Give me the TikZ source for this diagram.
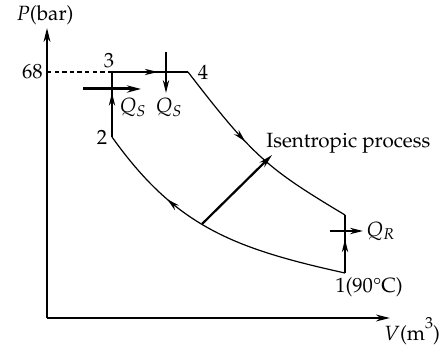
\documentclass[tikz,border=0pt]{standalone}
\usepackage[T1]{fontenc}
\usepackage{mathpazo}
\usepackage{textcomp}
\usetikzlibrary{arrows.meta,decorations.markings}
\tikzset{
  cyc/.style={line width=0.6pt},
  axisline/.style={line width=1pt,-{Stealth[length=7pt,width=3.4pt]}},
  heavy/.style={line width=1.5pt,-{Stealth[length=7pt,width=3.6pt]}},
  thinarrow/.style={line width=0.6pt,-{Stealth[length=6.5pt,width=3.2pt]}},
  midarrow/.style={postaction={decorate},decoration={markings,
     mark=at position #1 with {\arrow{Stealth[length=6.5pt,width=3.2pt]}}}},
  midarrowrev/.style={postaction={decorate},decoration={markings,
     mark=at position #1 with {\arrowreversed{Stealth[length=6.5pt,width=3.2pt]}}}},
  lbl/.style={inner sep=0pt},
}
\begin{document}
\begin{tikzpicture}[x=0.5pt,y=-0.5pt,font=\fontsize{10.3}{12}\selectfont]
\useasboundingbox (0,0) rectangle (448,347);
% coordinates
\coordinate (O) at (47,318);
\coordinate (Ptop) at (47,28);
\coordinate (Vend) at (390,318);
\coordinate (y68) at (47,72);
\coordinate (p3) at (112,72);
\coordinate (p4) at (188,72);
\coordinate (p2) at (112,137);
\coordinate (p5) at (345,215);
\coordinate (p1) at (345,273);
\coordinate (isoA) at (202,224);
\coordinate (isoB) at (272,155);
\coordinate (qsvA) at (166,52);
\coordinate (qsvB) at (166,93);
\coordinate (qshA) at (83,89);
\coordinate (qshB) at (141,89);
\coordinate (qrA) at (330,231);
\coordinate (qrB) at (363,231);
% axes
\draw[axisline] (O) -- (Ptop);
\draw[axisline] (O) -- (Vend);
% dashed
\draw[line width=0.9pt,dash pattern=on 2.2pt off 1.6pt] (y68) -- (p3);
% cycle
\draw[cyc,midarrow=0.60] (p3) -- (p4);
\draw[cyc,midarrow=0.42] (p4) .. controls (253.5,157) and (267.5,168.5) .. (p5);
\draw[cyc,midarrow=0.58] (p1) -- (p5);
\draw[cyc,midarrowrev=0.30] (p2) .. controls (175.4,225.8) and (232.3,248.2) .. (p1);
\draw[cyc,midarrow=0.68] (p2) -- (p3);
% heat arrows
\draw[heavy] (qshA) -- (qshB);
\draw[thinarrow] (qsvA) -- (qsvB);
\draw[thinarrow] (qrA) -- (qrB);
\draw[line width=1.1pt,-{Stealth[length=7pt,width=3.4pt]}] (isoA) -- (isoB);
% labels
\node[lbl] (Plbl) at (45,15) {$P$(bar)};
\node[lbl,anchor=east] (l68) at (43,72) {68};
\node[lbl] (l3) at (109,61) {3};
\node[lbl] (l4) at (203,72) {4};
\node[lbl] (l2) at (102,137) {2};
\node[lbl] (qs1) at (133,107) {$Q_S$};
\node[lbl] (qs2) at (169,107) {$Q_S$};
\node[lbl,anchor=west] (iso) at (266,143) {Isentropic process};
\node[lbl,anchor=west] (qr) at (366,231) {$Q_R$};
\node[lbl] (l1) at (369,287) {1(90\textdegree C)};
\node[lbl] (Vlbl) at (412,331) {$V$(m\raisebox{1.3ex}{\fontsize{8}{9}\selectfont 3})};
\end{tikzpicture}
\end{document}
